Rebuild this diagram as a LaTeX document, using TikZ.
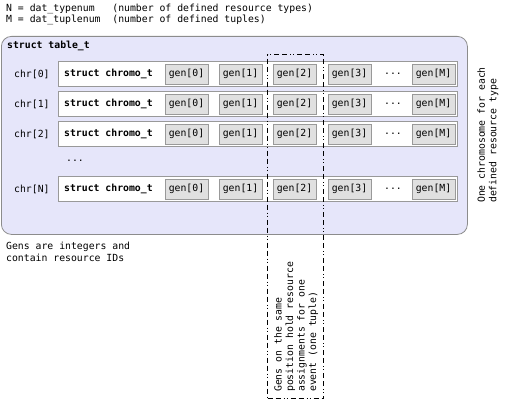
\documentclass[tikz,border=0pt]{standalone}
\usepackage{fontspec}
\setmainfont{DejaVu Sans Mono}
\setmonofont{DejaVu Sans Mono}
\begin{document}
\begin{tikzpicture}[x=1pt,y=-1pt,
  every node/.style={font=\fontsize{9.8}{11.5}\selectfont, inner sep=0pt},
  outerbox/.style={draw=black!45, fill={rgb,255:red,230;green,230;blue,250}, rounded corners=10pt, line width=0.8pt},
  rowbox/.style={draw=black!40, fill=white, line width=0.7pt, minimum width=399pt, minimum height=25pt, anchor=west},
  genbox/.style={draw=black!40, fill=black!12, line width=0.7pt, minimum width=43pt, minimum height=20pt},
  plain/.style={anchor=west, align=left},
  dashbox/.style={draw=black, line width=1.2pt, dash pattern=on 5pt off 3pt on 5pt off 3pt on 1pt off 2pt on 1pt off 3pt}]
\useasboundingbox (0,0) rectangle (525,401);
\node[plain] (h1) at (6,9) {N = dat\_typenum\ \ \ (number of defined resource types)};
\node[plain] (h2) at (6,20) {M = dat\_tuplenum\ \ (number of defined tuples)};
\node[outerbox, minimum width=466pt, minimum height=198pt, anchor=north west] (table) at (1,36) {};
\node[plain, font=\fontsize{9.8}{11.5}\selectfont\bfseries] (tt) at (7,46) {struct table\_t};
\foreach \r/\lab/\y in {0/chr[0]/74, 1/chr[1]/104, 2/chr[2]/134, 3/chr[N]/189} {
  \node[plain] (c\r) at (14,\y) {\lab};
  \node[rowbox] (row\r) at (58,\y) {};
  \node[plain, font=\fontsize{9.8}{11.5}\selectfont\bfseries] (s\r) at (64,\y) {struct chromo\_t};
  \node[genbox] (g\r0) at (186.5,\y) {gen[0]};
  \node[genbox] (g\r1) at (240.5,\y) {gen[1]};
  \node[genbox] (g\r2) at (294.5,\y) {gen[2]};
  \node[genbox] (g\r3) at (349.5,\y) {gen[3]};
  \node (d\r) at (393,\y) {...};
  \node[genbox] (g\r4) at (433.5,\y) {gen[M]};
}
\node (dots) at (75,161) {...};
\node[rotate=90, align=left] (right) at (488,135) {One chromosome for each\\defined resource type};
\node[plain] (gens) at (6,252) {Gens are integers and\\contain resource IDs};
\node[dashbox, minimum width=56pt, minimum height=344pt, anchor=north west] (col) at (267,54) {};
\node[rotate=90, align=left, anchor=north west] (colt) at (274,392) {Gens on the same\\position hold resource\\assignments for one\\event (one tuple)};
\end{tikzpicture}
\end{document}
